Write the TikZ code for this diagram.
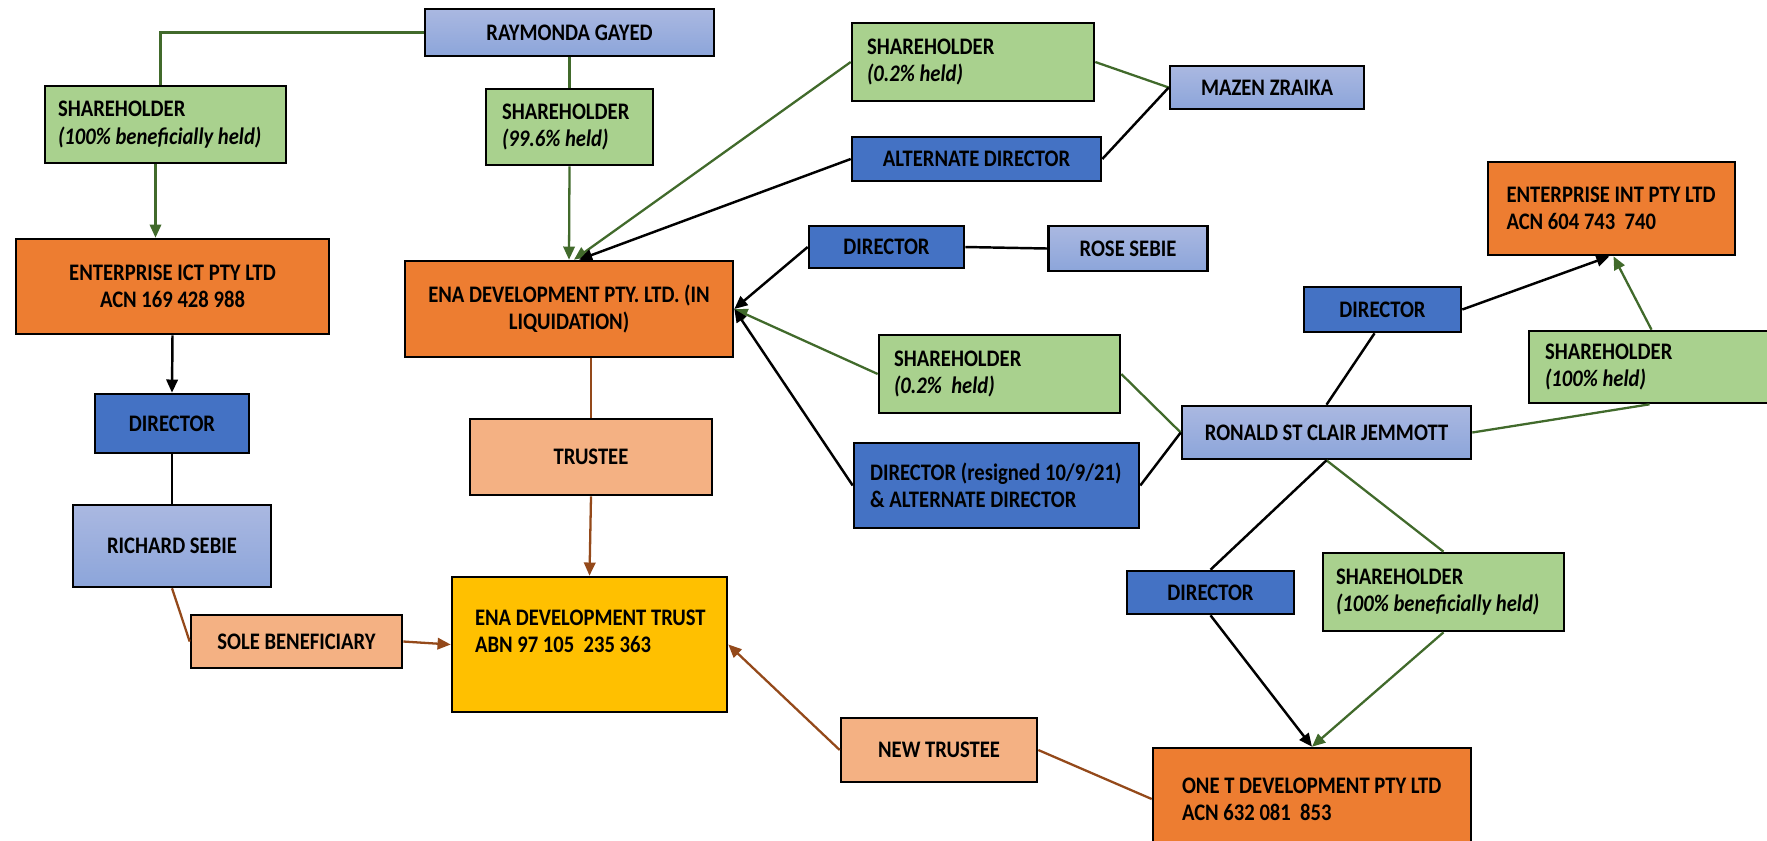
\documentclass[tikz,border=0pt]{standalone}
\usepackage{fontspec}
\setmainfont{Carlito}[FakeStretch=0.87]
\usepackage{xcolor}
\usepackage{tikz}
\usetikzlibrary{arrows.meta,calc}
\definecolor{firmfill}{HTML}{ED7D31}
\definecolor{holdfill}{HTML}{A9D18E}
\definecolor{officefill}{HTML}{4472C4}
\definecolor{perstop}{HTML}{AAB8E1}
\definecolor{persbot}{HTML}{8CA5DA}
\definecolor{rolefill}{HTML}{F4B183}
\definecolor{trustfill}{HTML}{FFC000}
\definecolor{owngreen}{HTML}{416A2B}
\definecolor{tiebrown}{HTML}{94491A}

\begin{document}
\begin{tikzpicture}[x=0.02cm,y=-0.02cm,
    box/.style={draw,line width=1.5pt,inner sep=0pt,align=center,font=\fontsize{13.5}{15.5}\selectfont\bfseries},
    firm/.style={box,fill=firmfill},
    holder/.style={box,fill=holdfill,align=flush left},
    office/.style={box,fill=officefill},
    person/.style={box,top color=perstop,bottom color=persbot},
    role/.style={box,fill=rolefill},
    trustbox/.style={box,fill=trustfill,align=flush left},
    own/.style={line width=1.3pt,color=owngreen},
    ownarrow/.style={own,-{Triangle[length=7.5pt,width=6.5pt]}},
    ctrl/.style={line width=1.4pt,color=black},
    ctrlarrow/.style={ctrl,-{Triangle[length=7.5pt,width=6.5pt]}},
    tie/.style={line width=1.3pt,color=tiebrown},
    tiearrow/.style={tie,-{Triangle[length=7.5pt,width=6.5pt]}}]
  \useasboundingbox (0,0) rectangle (1767,840);
  \clip (0,0) rectangle (1767,840);
  % people
  \node[person,minimum width=5.78cm,minimum height=0.94cm] (rg) at (569.5,32.5) {RAYMONDA GAYED};
  \node[person,minimum width=3.96cm,minimum height=1.64cm] (rs) at (172,546) {RICHARD SEBIE};
  \node[person,minimum width=3.88cm,minimum height=0.86cm] (mz) at (1267,87.5) {MAZEN ZRAIKA};
  \node[person,minimum width=3.18cm,minimum height=0.9cm] (rose) at (1128,248.5) {ROSE SEBIE};
  \node[person,minimum width=5.78cm,minimum height=1.06cm] (ron) at (1326.5,432.5) {RONALD ST CLAIR JEMMOTT};
  % companies and trust
  \node[firm,minimum width=6.26cm,minimum height=1.9cm] (ict) at (172.5,286.5) {ENTERPRISE ICT PTY LTD\\ACN 169 428 988};
  \node[firm,minimum width=6.56cm,minimum height=1.92cm] (ena) at (569,309) {ENA DEVELOPMENT PTY. LTD. (IN\\LIQUIDATION)};
  \node[firm,align=flush left,text width=4.2cm,inner xsep=0.37cm,minimum height=1.86cm] (eint) at (1611.5,208.5) {\mbox{ENTERPRISE INT PTY LTD}\\\mbox{ACN 604 743 \ 740}};
  \node[firm,align=flush left,text width=5.2cm,inner xsep=0.58cm,minimum height=2.04cm] (onet) at (1312,799) {\mbox{ONE T DEVELOPMENT PTY LTD}\\\mbox{ACN 632 081 \ 853}};
  \node[trustbox,text width=4.58cm,inner xsep=0.46cm,minimum height=2.7cm] (trust) at (589.5,644.5) {\mbox{ENA DEVELOPMENT TRUST}\\\mbox{ABN 97 105 \ 235 363}\\\mbox{}};
  % shareholdings
  \node[holder,text width=4.3cm,inner xsep=0.26cm,minimum height=1.54cm] (shA) at (165.5,124.5) {SHAREHOLDER\\\mbox{\textit{(100\% beneficially held)}}};
  \node[holder,text width=2.7cm,inner xsep=0.32cm,minimum height=1.52cm] (shB) at (569.5,127) {SHAREHOLDER\\\textit{(99.6\% held)}};
  \node[holder,text width=4.24cm,inner xsep=0.3cm,minimum height=1.56cm] (shC) at (973,62) {SHAREHOLDER\\\textit{(0.2\% held)}};
  \node[holder,text width=4.22cm,inner xsep=0.3cm,minimum height=1.56cm] (shD) at (999.5,374) {SHAREHOLDER\\\mbox{\textit{(0.2\% \ held)}}};
  \node[holder,text width=4.58cm,inner xsep=0.32cm,minimum height=1.44cm] (shE) at (1659.5,367) {SHAREHOLDER\\\textit{(100\% held)}};
  \node[holder,text width=4.3cm,inner xsep=0.26cm,minimum height=1.56cm] (shF) at (1443.5,592) {SHAREHOLDER\\\mbox{\textit{(100\% beneficially held)}}};
  % offices
  \node[office,minimum width=3.08cm,minimum height=1.18cm] (dirA) at (172,423.5) {DIRECTOR};
  \node[office,minimum width=4.98cm,minimum height=0.88cm] (alt) at (976.5,159) {ALTERNATE DIRECTOR};
  \node[office,minimum width=3.1cm,minimum height=0.84cm] (dirB) at (886.5,247) {DIRECTOR};
  \node[office,align=flush left,text width=5.06cm,inner xsep=0.32cm,minimum height=1.7cm] (dres) at (996.5,485.5) {\mbox{DIRECTOR (resigned 10/9/21)}\\\mbox{\& ALTERNATE DIRECTOR}};
  \node[office,minimum width=3.14cm,minimum height=0.9cm] (dirC) at (1382.5,309.5) {DIRECTOR};
  \node[office,minimum width=3.34cm,minimum height=0.86cm] (dirD) at (1210.5,592.5) {DIRECTOR};
  % trustee roles
  \node[role,minimum width=4.22cm,minimum height=1.06cm] (sole) at (296.5,641.5) {SOLE BENEFICIARY};
  \node[role,minimum width=4.84cm,minimum height=1.52cm] (trustee) at (591,457) {TRUSTEE};
  \node[role,minimum width=3.92cm,minimum height=1.28cm] (nt) at (939,750) {NEW TRUSTEE};
  % shareholding links
  \draw[own] (rg.west) -| ($(shA.north)+(-5,0)$);
  \draw[own] (rg.south) -- (shB.north);
  \draw[ownarrow] ($(shA.south)+(-10,0)$) -- ($(shA.south |- ict.north)+(-10,0)$);
  \draw[ownarrow] (shB.south) -- (ena.north);
  \draw[ownarrow] (shC.west) -- ($(ena.north)+(5,0)$);
  \draw[own] (shC.east) -- (mz.west);
  \draw[ownarrow] (shD.west) -- (ena.east);
  \draw[own] (shD.east) -- (ron.west);
  \draw[own] (ron.east) -- ($(shE.south)+(-10,0)$);
  \draw[ownarrow] ($(shE.north)+(-8,0)$) -- ($(eint.south)+(2,0)$);
  \draw[own] (ron.south) -- (shF.north);
  \draw[ownarrow] (shF.south) -- (onet.north);
  % director links
  \draw[ctrlarrow] (alt.west) -- ($(ena.north)+(10,0)$);
  \draw[ctrl] (alt.east) -- (mz.west);
  \draw[ctrlarrow] (dirB.west) -- (ena.east);
  \draw[ctrl] (dirB.east) -- (rose.west);
  \draw[ctrlarrow] (dres.west) -- (ena.east);
  \draw[ctrl] (dres.east) -- (ron.west);
  \draw[ctrl] ($(dirC.south)+(-8,0)$) -- (ron.north);
  \draw[ctrlarrow] (dirC.east) -- ($(eint.south)+(-2,0)$);
  \draw[ctrl] (ron.south) -- (dirD.north);
  \draw[ctrlarrow] (dirD.south) -- (onet.north);
  \draw[ctrlarrow] (ict.south) -- (dirA.north);
  \draw[ctrl] (dirA.south) -- (rs.north);
  % trust links
  \draw[tie] (trustee.north |- ena.south) -- (trustee.north);
  \draw[tiearrow] (trustee.south) -- (trust.north);
  \draw[tie] (rs.south) -- (sole.west);
  \draw[tiearrow] (sole.east) -- (trust.west);
  \draw[tiearrow] (nt.west) -- (trust.east);
  \draw[tie] (nt.east) -- (onet.west);
\end{tikzpicture}
\end{document}
